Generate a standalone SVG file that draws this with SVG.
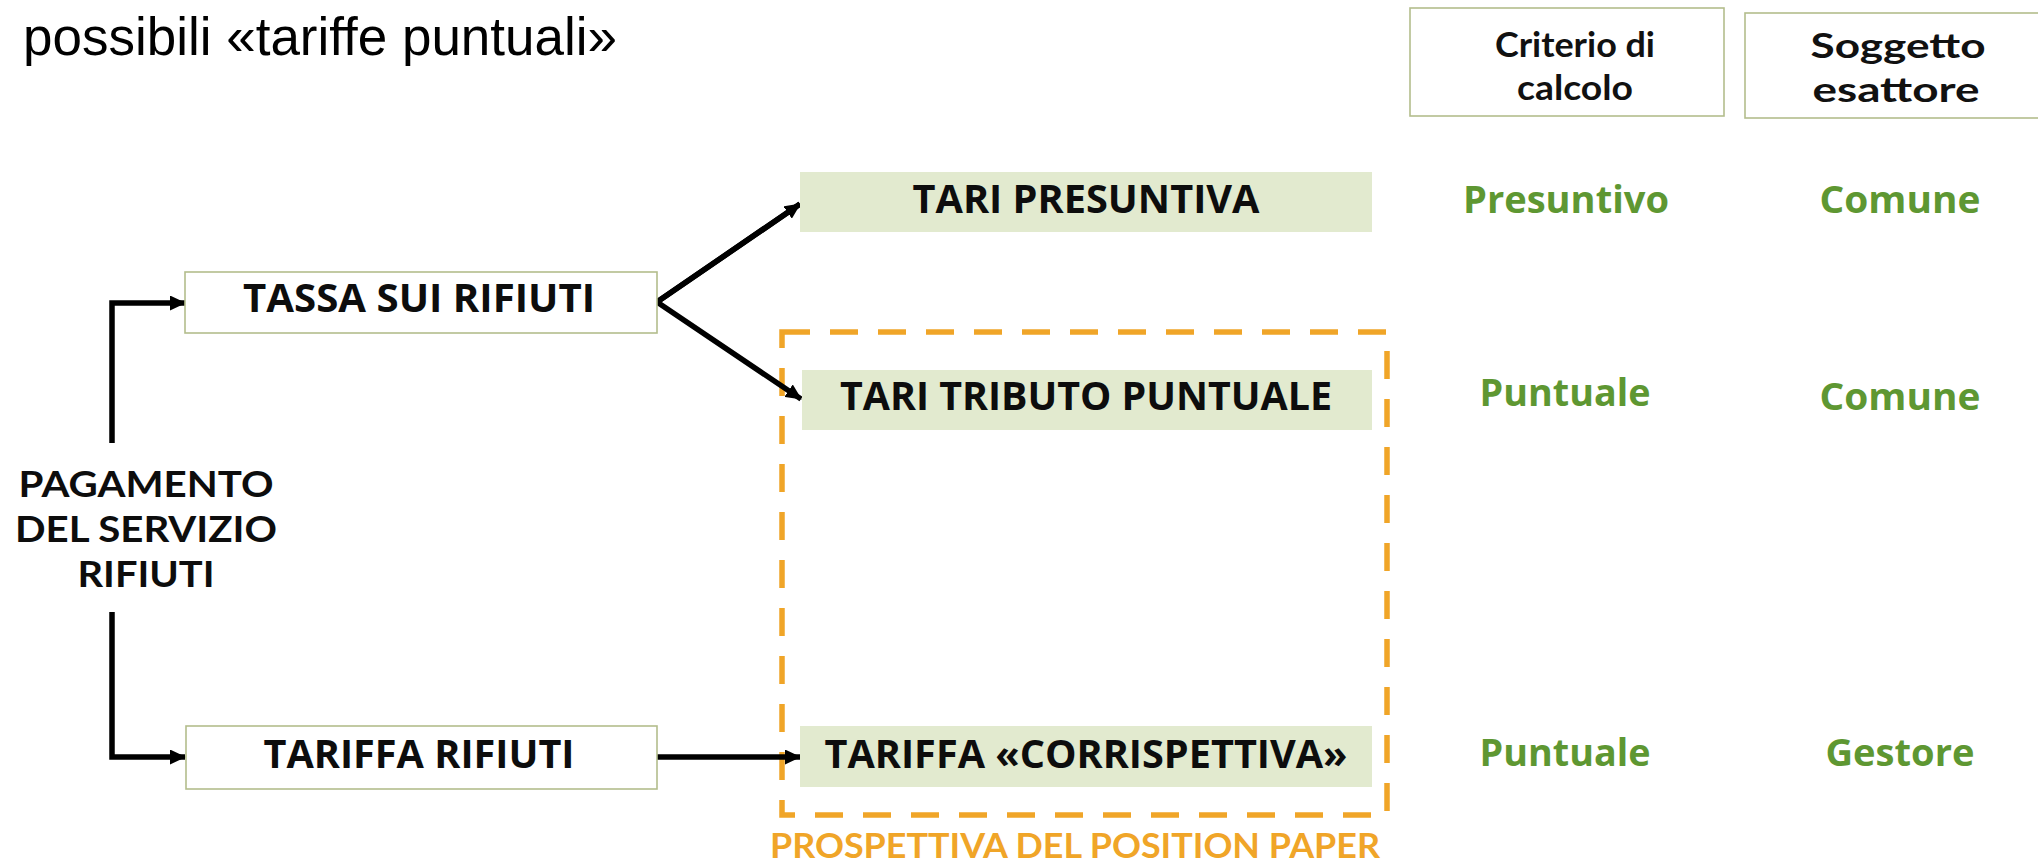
<svg xmlns="http://www.w3.org/2000/svg" width="2038" height="866" viewBox="0 0 2038 866">
  <defs>
    <marker id="arrow" markerUnits="userSpaceOnUse" markerWidth="16" markerHeight="15" refX="15" refY="7.5" orient="auto">
      <path d="M0,0 L16,7.5 L0,15 z" fill="#000"/>
    </marker>
    <style>
      .title{font-family:"Liberation Sans",Arial,sans-serif;font-size:53px;fill:#000}
      .node{font-family:"Open Sans","Noto Sans",sans-serif;font-weight:700;font-size:40px;fill:#0d0d0d}
      .stack{font-family:Lato,"Open Sans",sans-serif;font-weight:700;font-size:37px;fill:#0d0d0d;text-anchor:middle}
      .hdr{font-family:Lato,"Open Sans",sans-serif;font-weight:700;font-size:35px;fill:#111;text-anchor:middle}
      .val{font-family:"Open Sans","Noto Sans",sans-serif;font-weight:700;font-size:38px;fill:#5e9732;text-anchor:middle}
      .boxw{fill:#fff;stroke:#b3bd8c;stroke-width:1.6}
      .boxg{fill:#e2eacf}
      .conn{fill:none;stroke:#000;stroke-width:5.5;stroke-linejoin:miter}
      .persp{fill:none;stroke:#f0a528;stroke-width:5.5;stroke-dasharray:28 20}
      .ptext{font-family:Lato,"Open Sans",sans-serif;font-weight:700;font-size:35px;fill:#f0a528;text-anchor:middle}
    </style>
  </defs>
  <rect width="2038" height="866" fill="#fff"/>

  <text class="title" x="23" y="55" textLength="594" lengthAdjust="spacingAndGlyphs">possibili «tariffe puntuali»</text>

  <g id="hdr-criterio">
    <rect class="boxw" x="1410" y="8" width="314" height="108"/>
    <text class="hdr" x="1575" y="57" textLength="160" lengthAdjust="spacingAndGlyphs">Criterio di</text>
    <text class="hdr" x="1575" y="100" textLength="116" lengthAdjust="spacingAndGlyphs">calcolo</text>
  </g>
  <g id="hdr-soggetto">
    <rect class="boxw" x="1745" y="13" width="310" height="105"/>
    <text class="hdr" x="1898" y="58" textLength="175" lengthAdjust="spacingAndGlyphs">Soggetto</text>
    <text class="hdr" x="1896" y="102" textLength="167" lengthAdjust="spacingAndGlyphs">esattore</text>
  </g>

  <g id="dashed-perspective">
    <rect class="persp" x="782" y="332" width="605" height="483"/>
    <text class="ptext" x="1075" y="858" textLength="610" lengthAdjust="spacingAndGlyphs">PROSPETTIVA DEL POSITION PAPER</text>
  </g>

  <g id="connectors">
    <path class="conn" d="M112,443 L112,303 L185,303" marker-end="url(#arrow)"/>
    <path class="conn" d="M112,612 L112,757 L185,757" marker-end="url(#arrow)"/>
    <path class="conn" d="M800,204 L657,302 L801,399" marker-end="url(#arrow)"/>
    <path class="conn" d="M657,302 L800,204" marker-end="url(#arrow)"/>
    <path class="conn" d="M657,757 L800,757" marker-end="url(#arrow)"/>
  </g>

  <g id="pagamento">
    <text class="stack"><tspan x="146" y="497" textLength="255" lengthAdjust="spacingAndGlyphs">PAGAMENTO</tspan><tspan x="146" y="542" textLength="262" lengthAdjust="spacingAndGlyphs">DEL SERVIZIO</tspan><tspan x="146" y="587" textLength="137" lengthAdjust="spacingAndGlyphs">RIFIUTI</tspan></text>
  </g>

  <g id="tassa">
    <rect class="boxw" x="185" y="272" width="472" height="61"/>
    <text class="node" x="419" y="312" text-anchor="middle" textLength="352" lengthAdjust="spacingAndGlyphs">TASSA SUI RIFIUTI</text>
  </g>
  <g id="tariffa-rifiuti">
    <rect class="boxw" x="186" y="726" width="471" height="63"/>
    <text class="node" x="419" y="768" text-anchor="middle" textLength="311" lengthAdjust="spacingAndGlyphs">TARIFFA RIFIUTI</text>
  </g>

  <g id="tari-presuntiva">
    <rect class="boxg" x="800" y="172" width="572" height="60"/>
    <text class="node" x="1086" y="213" text-anchor="middle" textLength="347" lengthAdjust="spacingAndGlyphs">TARI PRESUNTIVA</text>
  </g>
  <g id="tari-tributo">
    <rect class="boxg" x="802" y="370" width="570" height="60"/>
    <text class="node" x="1086" y="410" text-anchor="middle" textLength="492" lengthAdjust="spacingAndGlyphs">TARI TRIBUTO PUNTUALE</text>
  </g>
  <g id="tariffa-corrispettiva">
    <rect class="boxg" x="800" y="726" width="572" height="61"/>
    <text class="node" x="1086" y="768" text-anchor="middle" textLength="523" lengthAdjust="spacingAndGlyphs">TARIFFA «CORRISPETTIVA»</text>
  </g>

  <g id="values">
    <text class="val" x="1566" y="213" textLength="206" lengthAdjust="spacingAndGlyphs">Presuntivo</text>
    <text class="val" x="1900" y="213" textLength="161" lengthAdjust="spacingAndGlyphs">Comune</text>
    <text class="val" x="1565" y="406" textLength="171" lengthAdjust="spacingAndGlyphs">Puntuale</text>
    <text class="val" x="1900" y="410" textLength="161" lengthAdjust="spacingAndGlyphs">Comune</text>
    <text class="val" x="1565" y="766" textLength="171" lengthAdjust="spacingAndGlyphs">Puntuale</text>
    <text class="val" x="1900" y="766" textLength="149" lengthAdjust="spacingAndGlyphs">Gestore</text>
  </g>
</svg>
